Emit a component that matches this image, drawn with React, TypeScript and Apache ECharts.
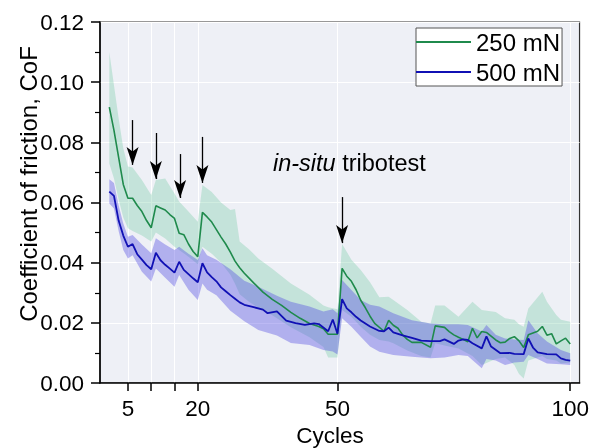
import React, { useEffect, useRef } from 'react';
import * as echarts from 'echarts';

const FONT = 'Liberation Sans, Arial, sans-serif';

// x-axis ticks / labels (cycles)
const tickCycles = [5, 10, 15, 20, 50, 100];
const labelCycles = [5, 20, 50, 100];

// 250 mN mean CoF
const cycles250 = [1, 2, 3, 4, 5, 6, 7, 8, 9, 10, 11, 12, 13, 14, 15, 16, 17, 18, 19, 20, 21, 22, 23, 24, 25, 26, 27, 28, 29, 30, 32, 34, 36, 38, 40, 42, 44, 46, 47, 48, 50, 51, 52, 53, 54, 55, 56, 57, 58, 60, 61, 62, 63, 64, 65, 66, 68, 70, 71, 73, 74, 75, 76, 77, 78, 79, 80, 81, 82, 84, 85, 86, 87, 88, 89, 90, 91, 92, 93, 94, 95, 96, 97, 98, 99, 100];
const cof250 = [0.0917, 0.084, 0.075, 0.066, 0.0614, 0.0614, 0.059, 0.057, 0.054, 0.0516, 0.0589, 0.0582, 0.0575, 0.056, 0.0547, 0.0498, 0.0493, 0.0462, 0.0437, 0.042, 0.0567, 0.0552, 0.0535, 0.051, 0.0485, 0.0462, 0.0435, 0.0405, 0.0383, 0.0365, 0.0333, 0.0302, 0.0278, 0.0258, 0.0235, 0.0215, 0.0198, 0.0188, 0.018, 0.0162, 0.0162, 0.0381, 0.0355, 0.0338, 0.031, 0.0275, 0.025, 0.0222, 0.0198, 0.0172, 0.0208, 0.0192, 0.0182, 0.016, 0.0145, 0.0135, 0.0135, 0.0119, 0.019, 0.0185, 0.0171, 0.016, 0.0152, 0.0145, 0.0137, 0.0182, 0.015, 0.0171, 0.0168, 0.0143, 0.0134, 0.0136, 0.0148, 0.0154, 0.014, 0.0118, 0.016, 0.0166, 0.0172, 0.0188, 0.0159, 0.0164, 0.013, 0.014, 0.0149, 0.013];

// 250 mN scatter band
const band250Cycles = [1, 2, 3, 4, 5, 6, 8, 10, 11, 13, 15, 16, 18, 20, 21, 23, 25, 27, 28, 29, 31, 33, 36, 40, 44, 47, 48, 50, 51, 53, 55, 57, 59, 61, 62, 65, 68, 70, 71, 73, 76, 79, 81, 84, 86, 88, 89, 90, 91, 94, 95, 97, 98, 100];
const band250Upper = [0.110, 0.099, 0.088, 0.078, 0.072, 0.0716, 0.0675, 0.0625, 0.0675, 0.068, 0.063, 0.0603, 0.057, 0.0536, 0.0658, 0.0635, 0.060, 0.0575, 0.0578, 0.047, 0.0445, 0.0414, 0.038, 0.0331, 0.0293, 0.0258, 0.0252, 0.0245, 0.0462, 0.041, 0.0376, 0.0335, 0.0285, 0.0287, 0.0276, 0.0243, 0.0204, 0.0198, 0.0258, 0.0258, 0.022, 0.027, 0.0243, 0.0236, 0.0215, 0.021, 0.0195, 0.0187, 0.0248, 0.0303, 0.027, 0.0226, 0.021, 0.0204];
const band250Lower = [0.073, 0.068, 0.061, 0.055, 0.0514, 0.0505, 0.049, 0.047, 0.050, 0.048, 0.0453, 0.0442, 0.042, 0.0395, 0.0453, 0.043, 0.040, 0.036, 0.033, 0.0295, 0.027, 0.025, 0.0225, 0.0185, 0.0152, 0.012, 0.0085, 0.0085, 0.0243, 0.022, 0.0187, 0.016, 0.0143, 0.0138, 0.0132, 0.0108, 0.009, 0.0085, 0.0132, 0.0125, 0.0115, 0.009, 0.006, 0.008, 0.0085, 0.006, 0.003, 0.0015, 0.0075, 0.009, 0.008, 0.0075, 0.0065, 0.0068];

// 500 mN mean CoF
const cycles500 = [1, 2, 3, 4, 5, 6, 7, 8, 9, 10, 11, 12, 13, 14, 15, 16, 17, 18, 19, 20, 21, 22, 23, 24, 25, 26, 27, 28, 29, 30, 32, 34, 35, 37, 39, 41, 43, 45, 46, 48, 49, 50, 51, 52, 53, 54, 55, 57, 59, 60, 61, 62, 64, 66, 68, 70, 72, 73, 75, 76, 77, 78, 79, 81, 82, 83, 85, 87, 88, 90, 91, 92, 93, 95, 97, 98, 99, 100];
const cof500 = [0.0636, 0.0622, 0.054, 0.049, 0.0453, 0.0462, 0.0428, 0.041, 0.0392, 0.0378, 0.0433, 0.0408, 0.0393, 0.038, 0.0367, 0.0403, 0.0376, 0.0362, 0.0348, 0.0335, 0.0398, 0.0368, 0.0352, 0.0338, 0.0318, 0.0305, 0.0292, 0.028, 0.0268, 0.026, 0.0252, 0.0244, 0.0232, 0.0238, 0.0207, 0.0199, 0.0193, 0.0198, 0.0196, 0.0172, 0.0211, 0.0164, 0.0279, 0.0248, 0.0235, 0.022, 0.0208, 0.0188, 0.0173, 0.0172, 0.0184, 0.0168, 0.0158, 0.015, 0.0141, 0.0139, 0.0139, 0.0145, 0.013, 0.0141, 0.0145, 0.0143, 0.0132, 0.0115, 0.0155, 0.0121, 0.0099, 0.010, 0.0097, 0.0096, 0.0148, 0.0118, 0.0102, 0.0096, 0.0095, 0.0082, 0.0077, 0.0074];

// 500 mN scatter band
const band500Cycles = [1, 2, 3, 4, 5, 6, 8, 10, 11, 13, 15, 16, 18, 20, 21, 22, 24, 27, 30, 33, 37, 40, 44, 47, 49, 50, 51, 53, 55, 57, 59, 62, 66, 70, 73, 76, 78, 81, 82, 84, 86, 88, 90, 91, 93, 95, 98, 100];
const band500Upper = [0.0677, 0.0665, 0.059, 0.053, 0.0486, 0.0492, 0.046, 0.0431, 0.0481, 0.046, 0.0442, 0.0453, 0.043, 0.0409, 0.0448, 0.0425, 0.041, 0.0378, 0.034, 0.032, 0.029, 0.027, 0.0254, 0.0238, 0.0245, 0.0232, 0.0342, 0.0309, 0.0276, 0.026, 0.0254, 0.0232, 0.0209, 0.0198, 0.0195, 0.0195, 0.0193, 0.0171, 0.0193, 0.016, 0.0148, 0.0145, 0.0143, 0.0209, 0.0165, 0.0138, 0.011, 0.0099];
const band500Lower = [0.0597, 0.058, 0.0505, 0.0442, 0.0414, 0.0425, 0.037, 0.0337, 0.0381, 0.035, 0.032, 0.0359, 0.031, 0.0276, 0.0331, 0.031, 0.0292, 0.024, 0.0205, 0.0176, 0.0158, 0.0133, 0.0126, 0.011, 0.0105, 0.0095, 0.0215, 0.0187, 0.0154, 0.0121, 0.0104, 0.0093, 0.0087, 0.0082, 0.0085, 0.0093, 0.009, 0.0049, 0.008, 0.0075, 0.006, 0.0068, 0.0071, 0.0093, 0.008, 0.0065, 0.0062, 0.006];

// arrows marking the restarts
const arrowCycles = [6, 11, 16.2, 21, 51];
const arrowTop = [0.0874, 0.0831, 0.0761, 0.0818, 0.0618];
const arrowTip = [0.0725, 0.0678, 0.0615, 0.0665, 0.0465];

const GREEN = '#1f8a4c';
const BLUE = '#1010b4';

function bandSeries(name: string, cycles: number[], lower: number[], upper: number[], fill: string, z: number) {
  return {
    type: 'custom',
    name,
    silent: true,
    z,
    data: cycles.map((c, i) => [c, lower[i], upper[i]]),
    encode: { x: 0, y: [1, 2] },
    renderItem: (params: any, api: any) => {
      if (params.dataIndex !== 0) return null;
      const pts: number[][] = [];
      for (let i = 0; i < cycles.length; i++) pts.push(api.coord([cycles[i], upper[i]]));
      for (let i = cycles.length - 1; i >= 0; i--) pts.push(api.coord([cycles[i], lower[i]]));
      return { type: 'polygon', shape: { points: pts }, style: { fill, stroke: 'none' } };
    },
  };
}

export default function App() {
  const ref = useRef<HTMLDivElement>(null);
  useEffect(() => {
    const chart = echarts.init(ref.current!, null, { renderer: 'svg' });
    const option: any = {
      animation: false,
      textStyle: { fontFamily: FONT },
      grid: {
        left: 100, right: 10, top: 22, bottom: 65,
        show: true, backgroundColor: '#eef0f6', borderColor: '#333', borderWidth: 1.2,
      },
      legend: {
        data: ['250 mN', '500 mN'],
        orient: 'vertical',
        left: 416, top: 28,
        icon: 'rect',
        itemWidth: 55, itemHeight: 2, itemGap: 6,
        padding: [2, 2, 2, 0],
        backgroundColor: '#fff', borderColor: '#555', borderWidth: 1,
        selectedMode: false,
        textStyle: { fontSize: 24, color: '#000', fontFamily: FONT, lineHeight: 24 },
      },
      xAxis: {
        type: 'value', min: -1, max: 102,
        axisLine: { show: true, onZero: false, lineStyle: { color: '#000', width: 1.5 } },
        axisTick: { show: true, length: 8, customValues: tickCycles, lineStyle: { color: '#000', width: 1.5 } },
        axisLabel: { customValues: labelCycles, fontSize: 22.5, color: '#000', margin: 14, fontFamily: FONT },
        splitLine: { show: true, lineStyle: { color: '#ffffff', width: 1 } },
      },
      yAxis: {
        type: 'value', min: 0, max: 0.12, interval: 0.02,
        axisLine: { show: true, onZero: false, lineStyle: { color: '#000', width: 1.5 } },
        axisTick: { show: true, length: 9, lineStyle: { color: '#000', width: 1.5 } },
        minorTick: { show: true, splitNumber: 2, length: 5, lineStyle: { color: '#000', width: 1.2 } },
        axisLabel: { fontSize: 22.5, color: '#000', margin: 16, fontFamily: FONT, formatter: (v: number) => v.toFixed(2) },
        splitLine: { show: true, lineStyle: { color: '#ffffff', width: 1 } },
      },
      graphic: [
        {
          type: 'text', x: 28, y: 184, rotation: Math.PI / 2,
          style: { text: 'Coefficient of friction, CoF', fontSize: 24, fontFamily: FONT, fill: '#000', textAlign: 'center', textVerticalAlign: 'middle' },
        },
        {
          type: 'text', x: 330, y: 435,
          style: { text: 'Cycles', fontSize: 22.5, fontFamily: FONT, fill: '#000', textAlign: 'center', textVerticalAlign: 'middle' },
        },
        {
          type: 'text', x: 273, y: 163,
          style: {
            text: '{i|in-situ} tribotest', fontSize: 23.5, fontFamily: FONT, fill: '#000', textAlign: 'left', textVerticalAlign: 'middle',
            rich: { i: { fontStyle: 'italic', fontSize: 23.5, fontFamily: FONT } },
          },
        },
      ],
      series: [
        bandSeries('band250', band250Cycles, band250Lower, band250Upper, 'rgba(110, 200, 160, 0.32)', 1),
        bandSeries('band500', band500Cycles, band500Lower, band500Upper, 'rgba(80, 70, 225, 0.38)', 2),
        {
          type: 'line', name: '250 mN', z: 3, symbol: 'none',
          data: cycles250.map((c, i) => [c, cof250[i]]),
          lineStyle: { color: GREEN, width: 1.6 }, itemStyle: { color: GREEN },
          markLine: {
            silent: true, symbol: ['none', 'arrow'], symbolSize: [9, 18],
            lineStyle: { color: '#000', width: 1.3, type: 'solid' },
            label: { show: false },
            data: arrowCycles.map((c, i) => [{ coord: [c, arrowTop[i]] }, { coord: [c, arrowTip[i]] }]),
          },
        },
        {
          type: 'line', name: '500 mN', z: 4, symbol: 'none',
          data: cycles500.map((c, i) => [c, cof500[i]]),
          lineStyle: { color: BLUE, width: 1.8 }, itemStyle: { color: BLUE },
        },
      ],
    };
    chart.setOption(option);
    return () => chart.dispose();
  }, []);
  return <div ref={ref} style={{ position: 'fixed', left: 0, top: 0, width: 592, height: 448 }} />;
}
